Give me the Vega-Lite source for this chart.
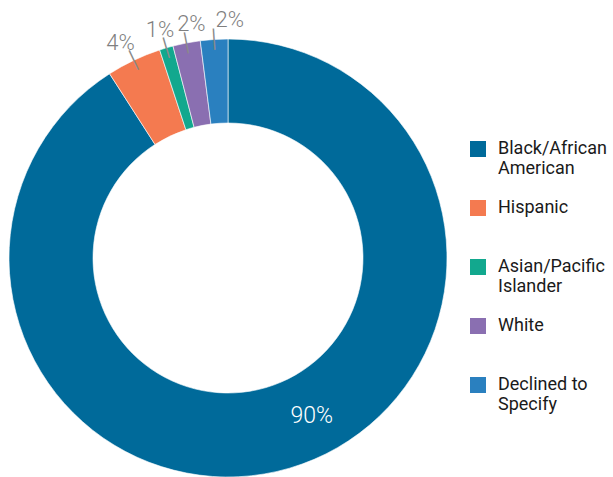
{
  "$schema": "https://vega.github.io/schema/vega-lite/v6.json",
  "width": 456,
  "height": 516,
  "padding": 0,
  "background": "white",
  "view": {"stroke": null},
  "data": {
    "values": [
      {"category": "Black/African American", "value": 90, "label": "90%", "order": 1},
      {"category": "Hispanic", "value": 4, "label": "4%", "order": 2},
      {"category": "Asian/Pacific Islander", "value": 1, "label": "1%", "order": 3},
      {"category": "White", "value": 2, "label": "2%", "order": 4},
      {"category": "Declined to Specify", "value": 2, "label": "2%", "order": 5}
    ]
  },
  "encoding": {
    "theta": {"field": "value", "type": "quantitative", "stack": true},
    "order": {"field": "order", "type": "quantitative"},
    "detail": {"field": "category", "type": "nominal"}
  },
  "layer": [
    {
      "mark": {"type": "arc", "radius": 219, "radius2": 135, "stroke": "white", "strokeWidth": 0.6},
      "encoding": {
        "color": {
          "field": "category",
          "type": "nominal",
          "scale": {
            "domain": ["Black/African American", "Hispanic", "Asian/Pacific Islander", "White", "Declined to Specify"],
            "range": ["#006A9A", "#F47A50", "#12A88E", "#8A6FB1", "#2A80BF"]
          },
          "legend": {
            "orient": "none",
            "legendX": 469,
            "legendY": 140,
            "title": null,
            "symbolType": "square",
            "symbolSize": 256,
            "symbolStrokeWidth": 0,
            "labelFont": "Roboto",
            "labelFontSize": 18,
            "labelColor": "#1a1a1a",
            "labelOffset": 11,
            "labelLimit": 300,
            "gridAlign": "all",
            "rowPadding": 21,
            "labelBaseline": "middle",
            "labelExpr": "datum.label == 'Black/African American' ? ['Black/African', 'American'] : datum.label == 'Asian/Pacific Islander' ? ['Asian/Pacific', 'Islander'] : datum.label == 'Declined to Specify' ? ['Declined to', 'Specify'] : datum.label"
          }
        }
      }
    },
    {
      "mark": {"type": "text", "radius": 177, "font": "Roboto", "fontWeight": 300, "fontSize": 23, "fill": "white", "dx": 34, "dy": -12},
      "encoding": {
        "text": {"field": "label"},
        "opacity": {"condition": {"test": "datum.category == 'Black/African American'", "value": 1}, "value": 0}
      }
    },
    {
      "mark": {"type": "text", "radius": 218, "font": "DejaVu Sans", "fontSize": 18, "fill": "#8a8a8a", "angle": {"expr": "(datum.value_start + datum.value_end) / 2 / 99 * 360"}},
      "encoding": {
        "text": {"value": "│"},
        "opacity": {"condition": {"test": "datum.category == 'Black/African American'", "value": 0}, "value": 1}
      }
    },
    {
      "mark": {"type": "text", "radius": 241, "font": "Roboto", "fontWeight": 300, "fontSize": 22, "fill": "#7f7f7f", "dy": 3, "dx": {"expr": "datum.category == 'White' ? 9 : datum.category == 'Declined to Specify' ? 17 : datum.category == 'Hispanic' ? -4 : 0"}},
      "encoding": {
        "text": {"field": "label"},
        "opacity": {"condition": {"test": "datum.category == 'Black/African American'", "value": 0}, "value": 1}
      }
    }
  ]
}
